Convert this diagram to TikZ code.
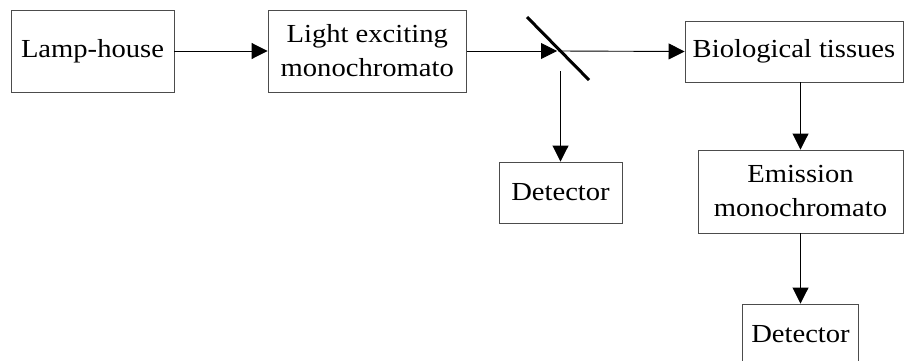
\documentclass[tikz,border=0pt]{standalone}
\usepackage{fontspec}
\setmainfont[FakeStretch=1.1]{Liberation Serif}
\usetikzlibrary{arrows.meta}
\begin{document}
\begin{tikzpicture}[x=1pt,y=1pt,
  box/.style={draw=black!70,line width=0.9pt,rectangle,inner sep=0pt,align=center,
    font=\fontsize{26}{34}\selectfont},
  conn/.style={line width=0.9pt,-{Triangle[length=16pt,width=16pt]}},
  plain/.style={line width=0.9pt}]
\useasboundingbox (0,0) rectangle (904,360);
\node[box,minimum width=163pt,minimum height=82pt] (lamp) at (92.5,309) {Lamp-house};
\node[box,minimum width=198.5pt,minimum height=82pt] (light) at (367.25,309) {Light exciting\\monochromato};
\node[box,minimum width=218pt,minimum height=61pt] (bio) at (794,308.5) {Biological tissues};
\node[box,minimum width=123pt,minimum height=61pt] (det1) at (560.5,167.5) {Detector};
\node[box,minimum width=205pt,minimum height=83pt] (emis) at (800.5,168.5) {Emission\\monochromato};
\node[box,minimum width=116pt,minimum height=61pt] (det2) at (800.5,25.5) {Detector};
\coordinate (m1) at (527,343);
\coordinate (m2) at (589,280);
\coordinate (mhit) at (557,309);
\coordinate (mout) at (558,309);
\coordinate (mdown) at (560.5,289);
\draw[line width=3pt] (m1) -- (m2);
\draw[conn] (lamp.east) -- (light.west);
\draw[conn] (light.east) -- (mhit);
\draw[conn] (mout) -- (bio.west);
\draw[conn] (mdown) -- (det1.north);
\draw[conn] (emis.north |- bio.south) -- (emis.north);
\draw[conn] (emis.south) -- (det2.north);
\end{tikzpicture}
\end{document}
